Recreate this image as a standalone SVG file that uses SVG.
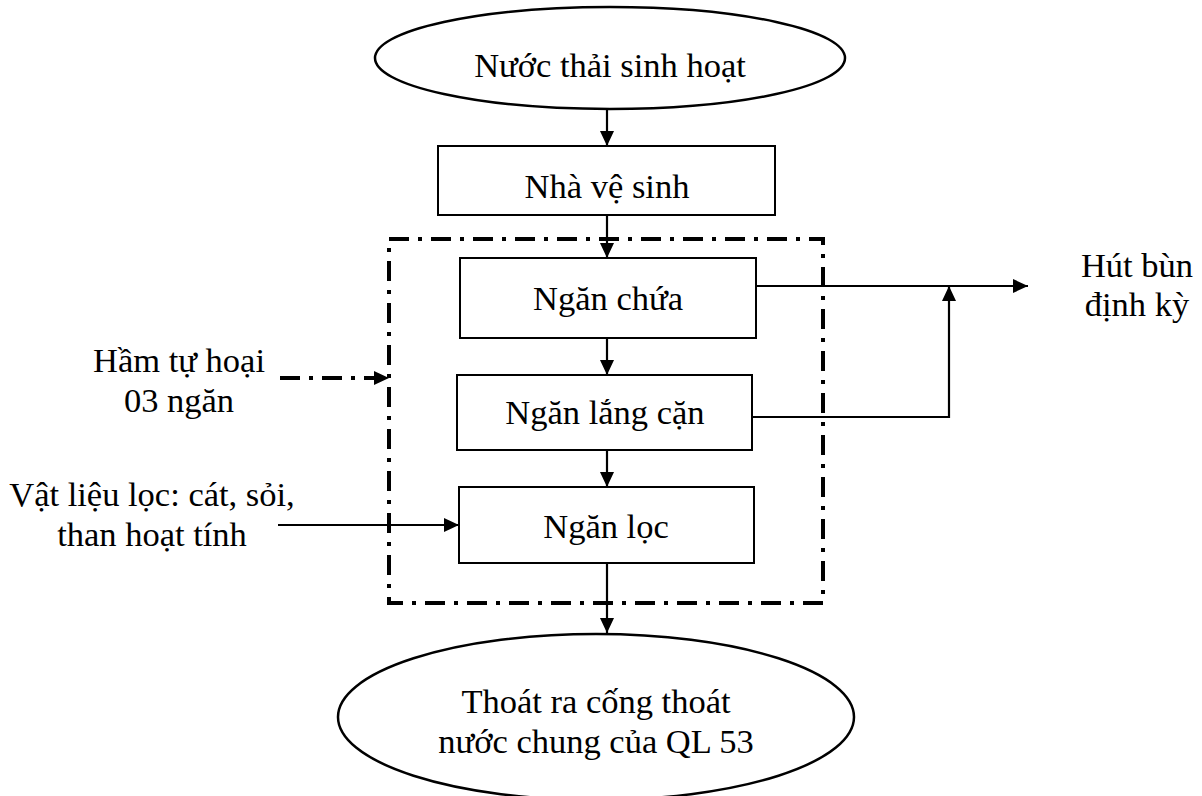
<svg xmlns="http://www.w3.org/2000/svg" width="1202" height="796" viewBox="0 0 1202 796">
  <defs>
    <marker id="arrow" markerUnits="userSpaceOnUse" markerWidth="16" markerHeight="14" refX="15" refY="7" orient="auto">
      <path d="M0,0 L15,7 L0,14 Z" fill="#000"/>
    </marker>
    <style>
      .lbl { font-family: 'Liberation Serif', 'DejaVu Serif', serif; font-size: 34.5px; fill: #000; text-anchor: middle; }
      .box { fill: #fff; stroke: #000; stroke-width: 2; }
      .oval { fill: #fff; stroke: #000; stroke-width: 2.5; }
      .flow { fill: none; stroke: #000; stroke-width: 2.2; }
      .dashdot { fill: none; stroke: #000; stroke-width: 4; stroke-dasharray: 20 9 4 9; }
    </style>
  </defs>
  <rect width="1202" height="796" fill="#fff"/>

  <!-- septic tank boundary -->
  <g id="septic-boundary">
    <rect class="dashdot" x="389" y="239" width="434" height="364"/>
  </g>

  <!-- connectors -->
  <g id="connectors">
    <line class="flow" x1="607" y1="110" x2="607" y2="146" marker-end="url(#arrow)"/>
    <line class="flow" x1="607" y1="215" x2="607" y2="258" marker-end="url(#arrow)"/>
    <line class="flow" x1="607" y1="338" x2="607" y2="375" marker-end="url(#arrow)"/>
    <line class="flow" x1="607" y1="450" x2="607" y2="487" marker-end="url(#arrow)"/>
    <line class="flow" x1="607" y1="563" x2="607" y2="633" marker-end="url(#arrow)"/>
    <line class="flow" x1="756" y1="286" x2="1028" y2="286" marker-end="url(#arrow)"/>
    <polyline class="flow" points="752,417 949,417 949,286" marker-end="url(#arrow)"/>
    <line class="flow" x1="278" y1="525" x2="459" y2="525" marker-end="url(#arrow)"/>
    <line class="dashdot" x1="280" y1="378" x2="389" y2="378" marker-end="url(#arrow)"/>
  </g>

  <g class="lbl" font-family="'Liberation Serif', 'DejaVu Serif', serif">
    <g id="node-source">
      <ellipse class="oval" cx="610" cy="58" rx="235" ry="51"/>
      <text x="610" y="77">Nước thải sinh hoạt</text>
    </g>

    <g id="node-toilet">
      <rect class="box" x="438" y="146" width="337" height="69"/>
      <text x="607" y="198">Nhà vệ sinh</text>
    </g>

    <g id="node-holding">
      <rect class="box" x="460" y="258" width="296" height="80"/>
      <text x="608" y="310">Ngăn chứa</text>
    </g>

    <g id="node-settling">
      <rect class="box" x="457" y="375" width="295" height="75"/>
      <text x="605" y="424">Ngăn lắng cặn</text>
    </g>

    <g id="node-filter">
      <rect class="box" x="459" y="487" width="295" height="76"/>
      <text x="606" y="538">Ngăn lọc</text>
    </g>

    <g id="node-outlet">
      <ellipse class="oval" cx="596" cy="717" rx="258" ry="83"/>
      <text x="596" y="713">Thoát ra cống thoát</text>
      <text x="596" y="753">nước chung của QL 53</text>
    </g>

    <g id="label-sludge">
      <text x="1137" y="277">Hút bùn</text>
      <text x="1137" y="316">định kỳ</text>
    </g>

    <g id="label-septic">
      <text x="179" y="372">Hầm tự hoại</text>
      <text x="179" y="412">03 ngăn</text>
    </g>

    <g id="label-media">
      <text x="152" y="506">Vật liệu lọc: cát, sỏi,</text>
      <text x="152" y="546">than hoạt tính</text>
    </g>
  </g>
</svg>
